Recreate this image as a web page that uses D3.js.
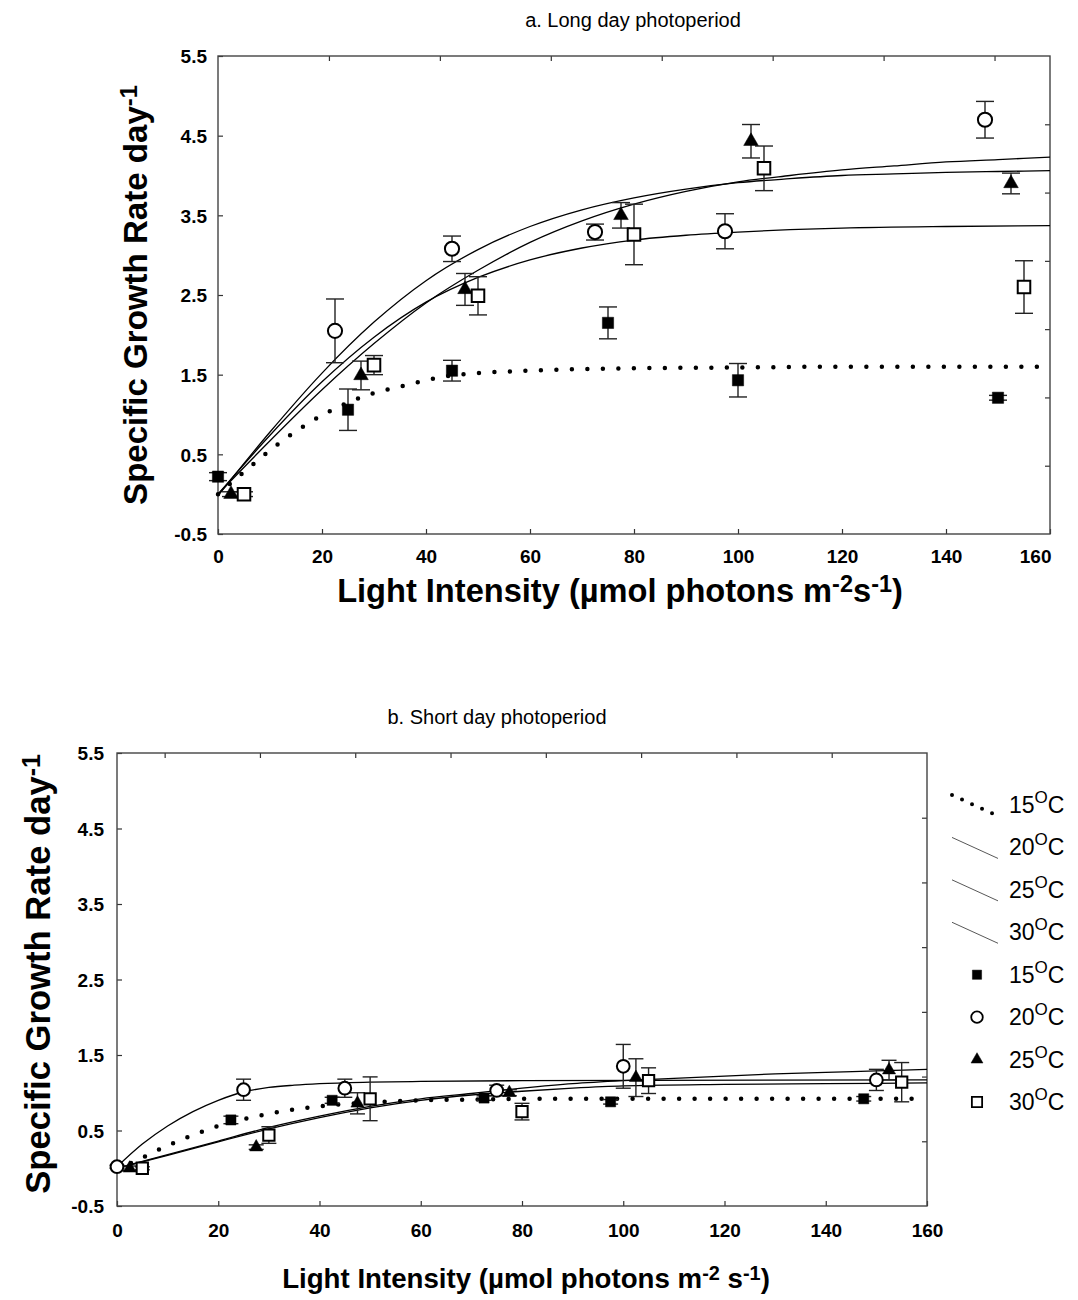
<!DOCTYPE html>
<html>
<head>
<meta charset="utf-8">
<style>
  body { margin: 0; background: #fff; }
  svg text { font-family: Arial, 'Liberation Sans', sans-serif; fill: #000; }
  .tick text { font-size: 19px; font-weight: bold; }
  .tick line { stroke: #333; stroke-width: 1.2px; }
  .frame { fill: none; stroke: #444; stroke-width: 1.4px; }
  .fit { fill: none; stroke: #000; stroke-width: 1.3px; }
  .fit.dotted { stroke-width: 4.5px; stroke-dasharray: 0 15.5; stroke-linecap: round; }
  .err { stroke: #222; stroke-width: 1.4px; fill: none; }
  .title { font-size: 20px; }
  .axislabel { font-size: 28px; font-weight: bold; }
  .legend text { font-size: 23px; }
</style>
</head>
<body>
<svg id="chart" width="1078" height="1300"></svg>
<script src="https://cdn.jsdelivr.net/npm/d3@7"></script>
<script>
  const xTicks = [0, 20, 40, 60, 80, 100, 120, 140, 160];
  const yTicks = [-0.5, 0.5, 1.5, 2.5, 3.5, 4.5, 5.5];
  const temperatures = ["15", "20", "25", "30"];

  // observations: [light, growth rate, error]
  const long15 = [[0, 0.22, 0.05], [25, 1.06, 0.26], [45, 1.55, 0.13], [75, 2.15, 0.2], [100, 1.43, 0.21], [150, 1.21, 0.03]];
  const long20 = [[22.5, 2.05, 0.4], [45, 3.08, 0.16], [72.5, 3.29, 0.1], [97.5, 3.3, 0.22], [147.5, 4.7, 0.23]];
  const long25 = [[2.5, 0.0, 0.03], [27.5, 1.49, 0.18], [47.5, 2.57, 0.2], [77.5, 3.5, 0.16], [102.5, 4.43, 0.21], [152.5, 3.9, 0.13]];
  const long30 = [[5, 0.0, 0.03], [30, 1.62, 0.12], [50, 2.49, 0.24], [80, 3.26, 0.38], [105, 4.09, 0.28], [155, 2.6, 0.33]];

  const short15 = [[22.5, 0.64, 0.05], [42.5, 0.9, 0.04], [72.5, 0.93, 0.03], [97.5, 0.88, 0.03], [147.5, 0.92, 0.03]];
  const short20 = [[0, 0.02, 0.02], [25, 1.04, 0.14], [45, 1.06, 0.12], [75, 1.03, 0.07], [100, 1.35, 0.29], [150, 1.17, 0.14]];
  const short25 = [[2.5, 0.0, 0.03], [27.5, 0.28, 0.03], [47.5, 0.86, 0.14], [77.5, 1.0, 0.04], [102.5, 1.2, 0.25], [152.5, 1.3, 0.13]];
  const short30 = [[5, 0.0, 0.02], [30, 0.44, 0.11], [50, 0.92, 0.29], [80, 0.75, 0.11], [105, 1.16, 0.17], [155, 1.14, 0.26]];

  // fitted curves: [light, growth rate]
  const longFit15 = [[0, 0.0], [5, 0.28], [10, 0.55], [15, 0.79], [20, 0.99], [25, 1.15], [30, 1.27], [35, 1.35], [40, 1.43], [45, 1.49], [50, 1.52], [60, 1.55], [70, 1.57], [80, 1.58], [100, 1.59], [120, 1.6], [160, 1.6]];
  const longFit20 = [[0, 0.0], [10, 0.74], [20, 1.41], [30, 1.97], [40, 2.41], [50, 2.72], [60, 2.94], [70, 3.09], [80, 3.19], [90, 3.25], [100, 3.29], [110, 3.32], [120, 3.34], [140, 3.36], [160, 3.37]];
  const longFit25 = [[0, -0.02], [10, 0.78], [20, 1.52], [30, 2.16], [40, 2.68], [50, 3.07], [60, 3.36], [70, 3.57], [80, 3.72], [90, 3.83], [100, 3.91], [110, 3.96], [120, 4.0], [130, 4.02], [140, 4.04], [150, 4.05], [160, 4.06]];
  const longFit30 = [[0, 0.0], [10, 0.67], [20, 1.31], [30, 1.89], [40, 2.4], [50, 2.81], [60, 3.16], [70, 3.43], [80, 3.64], [90, 3.8], [100, 3.92], [110, 4.0], [120, 4.07], [130, 4.12], [140, 4.17], [150, 4.2], [160, 4.23]];

  const shortFit15 = [[0, -0.02], [5, 0.14], [10, 0.3], [15, 0.44], [20, 0.56], [25, 0.65], [30, 0.72], [35, 0.78], [40, 0.82], [45, 0.85], [50, 0.87], [60, 0.9], [70, 0.91], [80, 0.92], [160, 0.92]];
  const shortFit20 = [[0, 0.02], [5, 0.32], [10, 0.56], [15, 0.75], [20, 0.9], [25, 1.01], [30, 1.07], [35, 1.1], [40, 1.12], [50, 1.14], [60, 1.15], [80, 1.16], [160, 1.17]];
  const shortFit25 = [[0, 0.0], [10, 0.18], [20, 0.36], [30, 0.54], [40, 0.69], [50, 0.82], [60, 0.92], [70, 0.99], [80, 1.06], [90, 1.12], [100, 1.16], [110, 1.19], [120, 1.22], [130, 1.25], [140, 1.27], [150, 1.29], [160, 1.31]];
  const shortFit30 = [[0, 0.0], [10, 0.17], [20, 0.35], [30, 0.52], [40, 0.67], [50, 0.8], [60, 0.9], [70, 0.97], [80, 1.02], [90, 1.06], [100, 1.09], [120, 1.11], [140, 1.12], [160, 1.13]];

  const svg = d3.select("#chart");

  // marker look for each temperature, same order as temperatures
  const shapes = [
    { type: d3.symbolSquare, fill: "#000", area: 121 },
    { type: d3.symbolCircle, fill: "#fff", area: 150 },
    { type: d3.symbolTriangle, fill: "#000", area: 88 },
    { type: d3.symbolSquare, fill: "#fff", area: 150 }
  ];

  function markerPath(i, scale) {
    return d3.symbol().type(shapes[i].type).size(shapes[i].area * scale)();
  }

  function addText(sel, parts) {
    // parts: [text, isSuper, backDown]
    parts.forEach(function(p) {
      const t = sel.append("tspan").text(p[0]);
      if (p[1]) t.attr("dy", "-0.42em").style("font-size", "0.72em");
      else if (p[2]) t.attr("dy", "0.30em");
    });
  }

  // grow or shrink the font so the label spans the length seen in the picture
  function fitLength(sel, target) {
    const fs = parseFloat(sel.style("font-size"));
    const w = sel.node().getBBox().width;
    sel.style("font-size", (fs * target / w) + "px");
  }

  function drawPanel(cfg) {
    const x = d3.scaleLinear().domain([0, 160]).range([cfg.left, cfg.right]);
    const y = d3.scaleLinear().domain([-0.5, 5.5]).range([cfg.bottom, cfg.top]);
    const g = svg.append("g");

    g.append("text").attr("class", "title")
      .attr("x", cfg.titleX).attr("y", cfg.titleY)
      .attr("text-anchor", "middle").text(cfg.title);

    // axes, ticks pointing inwards
    const ax = g.append("g").attr("transform", `translate(0,${cfg.bottom})`)
      .call(d3.axisBottom(x).tickValues(xTicks).tickSize(-5).tickSizeOuter(0).tickPadding(cfg.xPad)
        .tickFormat(d3.format("d")));
    ax.select(".domain").remove();
    if (cfg.lastEnd) {
      ax.selectAll(".tick").filter(d => d === 160).select("text")
        .attr("text-anchor", "end").attr("x", 1);
    }

    const ay = g.append("g").attr("transform", `translate(${cfg.left},0)`)
      .call(d3.axisLeft(y).tickValues(yTicks).tickSize(-5).tickSizeOuter(0).tickPadding(cfg.yPad)
        .tickFormat(d => d.toFixed(1)));
    ay.select(".domain").remove();
    ay.selectAll(".tick text").attr("dy", "0.36em");

    const topScale = d3.scaleLinear().domain(cfg.topDomain).range([cfg.left, cfg.right]);
    g.append("g").attr("transform", `translate(0,${cfg.top})`)
      .call(d3.axisTop(topScale).tickValues(d3.range(cfg.topDomain[0] < 0 ? 0 : 1, 8)).tickSize(-5).tickFormat(""))
      .select(".domain").remove();

    const rightScale = d3.scaleLinear().domain([0, 7]).range([cfg.bottom, cfg.top]);
    g.append("g").attr("transform", `translate(${cfg.right},0)`)
      .call(d3.axisRight(rightScale).tickValues(d3.range(1, 7)).tickSize(-5).tickFormat(""))
      .select(".domain").remove();

    g.append("rect").attr("class", "frame")
      .attr("x", cfg.left).attr("y", cfg.top)
      .attr("width", cfg.right - cfg.left).attr("height", cfg.bottom - cfg.top);

    // fitted curves
    const line = d3.line().x(d => x(d[0])).y(d => y(d[1])).curve(d3.curveMonotoneX);
    cfg.fits.forEach(function(f, i) {
      g.append("path").datum(f)
        .attr("class", i === 0 ? "fit dotted" : "fit")
        .attr("d", line);
    });

    // error bars then markers
    cfg.obs.forEach(function(series) {
      const eg = g.append("g");
      series.forEach(function(d) {
        const cx = x(d[0]);
        eg.append("line").attr("class", "err")
          .attr("x1", cx).attr("x2", cx).attr("y1", y(d[1] - d[2])).attr("y2", y(d[1] + d[2]));
        [d[1] - d[2], d[1] + d[2]].forEach(function(v) {
          eg.append("line").attr("class", "err")
            .attr("x1", cx - cfg.cap / 2).attr("x2", cx + cfg.cap / 2)
            .attr("y1", y(v)).attr("y2", y(v));
        });
      });
    });
    cfg.obs.forEach(function(series, i) {
      g.append("g").selectAll("path").data(series).join("path")
        .attr("transform", d => `translate(${x(d[0])},${y(d[1])})`)
        .attr("d", markerPath(i, cfg.markerScale))
        .attr("fill", shapes[i].fill)
        .attr("stroke", "#000")
        .attr("stroke-width", shapes[i].fill === "#fff" ? 2 : 0.5);
    });

    // axis titles
    const yl = g.append("text").attr("class", "axislabel")
      .attr("transform", `translate(${cfg.yLabelX},${cfg.yLabelY}) rotate(-90)`)
      .attr("text-anchor", "middle");
    addText(yl, [["Specific Growth Rate day"], ["-1", true]]);
    fitLength(yl, cfg.yLabelLen);

    const xl = g.append("text").attr("class", "axislabel")
      .attr("x", cfg.xLabelX).attr("y", cfg.xLabelY)
      .attr("text-anchor", "middle");
    addText(xl, cfg.xLabelParts);
    fitLength(xl, cfg.xLabelLen);
  }

  drawPanel({
    title: "a. Long day photoperiod", titleX: 633, titleY: 27,
    left: 218, right: 1050, top: 56, bottom: 534,
    topDomain: [0, 7.5], xPad: 16, yPad: 11, lastEnd: true,
    cap: 18, markerScale: 1.05,
    fits: [longFit15, longFit20, longFit25, longFit30],
    obs: [long15, long20, long25, long30],
    yLabelX: 147, yLabelY: 295, yLabelLen: 420,
    xLabelX: 620, xLabelY: 602, xLabelLen: 566,
    xLabelParts: [["Light Intensity (µmol photons m"], ["-2", true], ["s", false, true], ["-1", true], [")", false, true]]
  });

  drawPanel({
    title: "b. Short day photoperiod", titleX: 497, titleY: 724,
    left: 117, right: 927, top: 753, bottom: 1206,
    topDomain: [-0.5, 8], xPad: 18, yPad: 13, lastEnd: false,
    cap: 15, markerScale: 0.85,
    fits: [shortFit15, shortFit20, shortFit25, shortFit30],
    obs: [short15, short20, short25, short30],
    yLabelX: 50, yLabelY: 974, yLabelLen: 440,
    xLabelX: 526, xLabelY: 1288, xLabelLen: 488,
    xLabelParts: [["Light Intensity (µmol photons m"], ["-2", true], [" s", false, true], ["-1", true], [")", false, true]]
  });

  // legend
  const legend = svg.append("g").attr("class", "legend");
  const rowY = d3.scalePoint().domain(d3.range(8)).range([805, 1102]);
  temperatures.forEach(function(t, i) {
    const cy = rowY(i);
    const sample = [[0, 0], [1, 1]];
    const lx = d3.scaleLinear().domain([0, 1]).range([952, 998]);
    const ly = d3.scaleLinear().domain([0, 1]).range([cy - 10, cy + 11]);
    legend.append("path").datum(sample)
      .attr("class", i === 0 ? "fit dotted" : "fit")
      .style("stroke", i === 0 ? "#000" : "#444")
      .style("stroke-width", i === 0 ? "4px" : "0.9px")
      .style("stroke-dasharray", i === 0 ? "0 11" : null)
      .attr("d", d3.line().x(d => lx(d[0])).y(d => ly(d[1])));
  });
  temperatures.forEach(function(t, i) {
    legend.append("path")
      .attr("transform", `translate(977,${rowY(i + 4)})`)
      .attr("d", markerPath(i, 0.7))
      .attr("fill", shapes[i].fill)
      .attr("stroke", "#000")
      .attr("stroke-width", shapes[i].fill === "#fff" ? 1.8 : 0.5);
  });
  d3.range(8).forEach(function(k) {
    const txt = legend.append("text").attr("x", 1009).attr("y", rowY(k) + 8);
    txt.append("tspan").text(temperatures[k % 4]);
    txt.append("tspan").text("O").attr("dy", -10).style("font-size", "17px");
    txt.append("tspan").text("C").attr("dy", 10);
  });
</script>
</body>
</html>
